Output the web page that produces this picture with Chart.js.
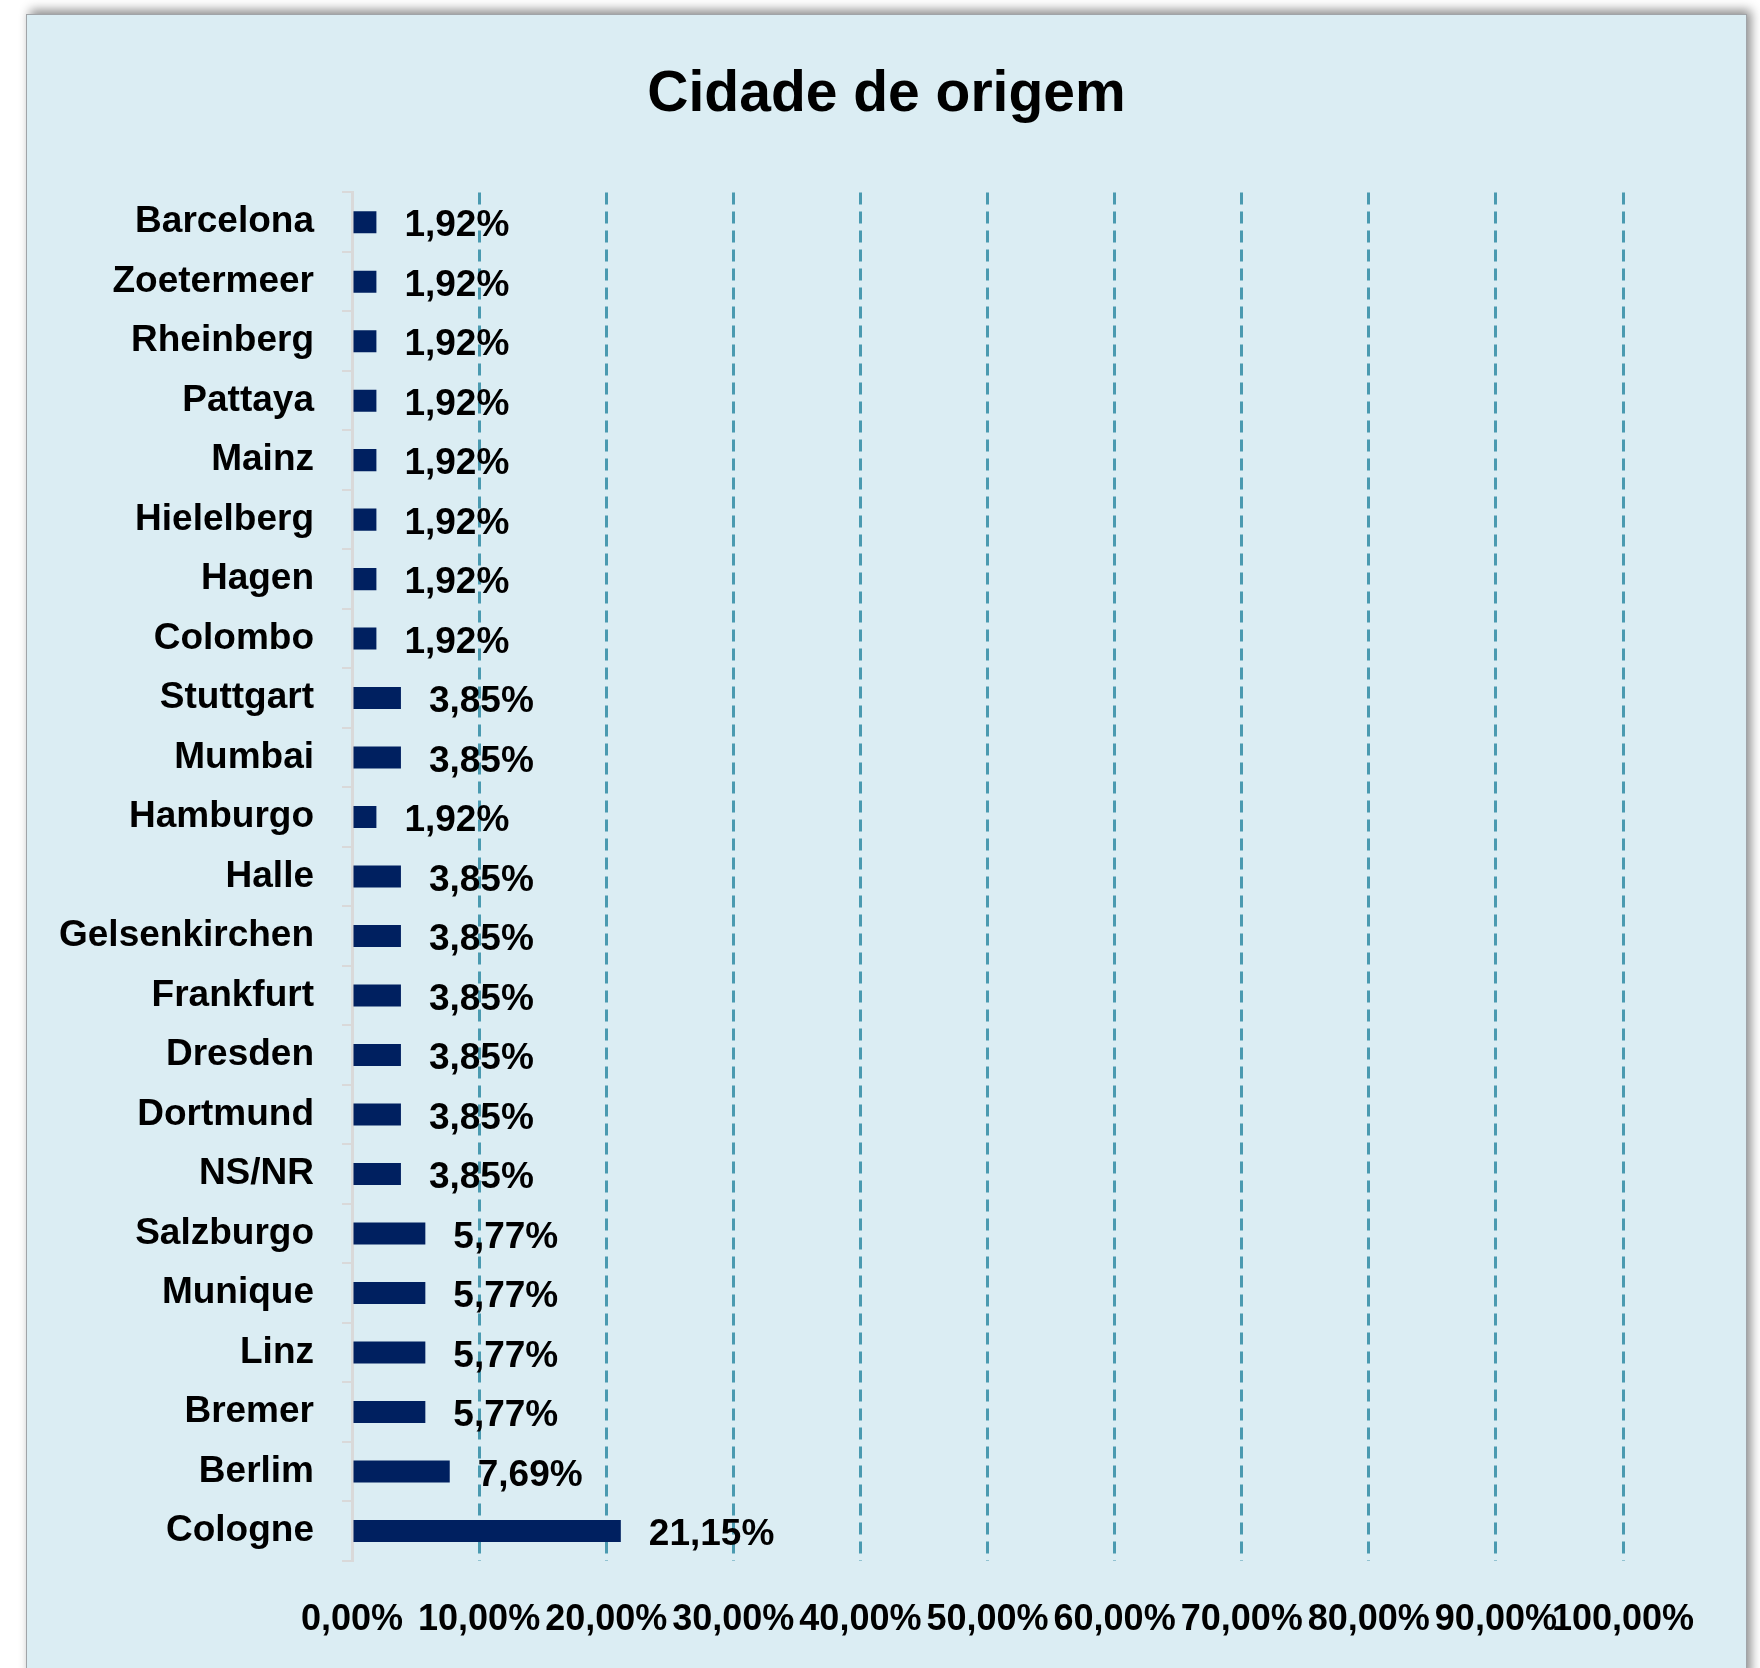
<!DOCTYPE html>
<html>
<head>
<meta charset="utf-8">
<title>Cidade de origem</title>
<script src="https://cdn.jsdelivr.net/npm/chart.js@4.4.1/dist/chart.umd.min.js"></script>
<style>
  html, body { margin: 0; padding: 0; background: #ffffff; overflow: hidden; }
  body { width: 1760px; height: 1668px; position: relative; }
  #card {
    position: absolute; left: 26px; top: 14px; width: 1721px; height: 1667px;
    background: #dbedf3; border: 1px solid #a0a4a8; box-sizing: border-box;
    box-shadow: 4px -4px 10px rgba(0,0,0,0.45);
  }
  #myChart { display: block; }
</style>
</head>
<body>
<div id="card"><canvas id="myChart" width="1719" height="1665"></canvas></div>
<script>
'use strict';

let cities = ['Barcelona', 'Zoetermeer', 'Rheinberg', 'Pattaya', 'Mainz', 'Hielelberg', 'Hagen', 'Colombo',
  'Stuttgart', 'Mumbai', 'Hamburgo', 'Halle', 'Gelsenkirchen', 'Frankfurt', 'Dresden', 'Dortmund', 'NS/NR',
  'Salzburgo', 'Munique', 'Linz', 'Bremer', 'Berlim', 'Cologne'];

let percents = [1.92, 1.92, 1.92, 1.92, 1.92, 1.92, 1.92, 1.92,
  3.85, 3.85, 1.92, 3.85, 3.85, 3.85, 3.85, 3.85, 3.85,
  5.77, 5.77, 5.77, 5.77, 7.69, 21.15];

let xTicks = ['0,00%', '10,00%', '20,00%', '30,00%', '40,00%', '50,00%', '60,00%', '70,00%', '80,00%', '90,00%', '100,00%'];

let fontName = "'Liberation Sans', Arial, sans-serif";

// write the value next to every bar
let valueLabels = {
  id: 'valueLabels',
  afterDatasetsDraw(chart) {
    let ctx = chart.ctx;
    let meta = chart.getDatasetMeta(0);
    ctx.save();
    ctx.fillStyle = '#000000';
    ctx.font = 'bold 37px ' + fontName;
    ctx.textBaseline = 'middle';
    ctx.textAlign = 'left';
    for (let i = 0; i < meta.data.length; i++) {
      let bar = meta.data[i];
      let txt = percents[i].toFixed(2).replace('.', ',') + '%';
      ctx.fillText(txt, bar.x + 28, bar.y + 4);
    }
    ctx.restore();
  }
};

let ctx = document.getElementById('myChart').getContext('2d');
let chart = new Chart(ctx, {
  type: 'bar',
  data: {
    labels: cities,
    datasets: [{
      data: percents,
      backgroundColor: '#002060',
      borderWidth: 0,
      barPercentage: 0.37,
      categoryPercentage: 1
    }]
  },
  plugins: [valueLabels],
  options: {
    indexAxis: 'y',
    responsive: false,
    animation: false,
    layout: { padding: 0 },
    plugins: {
      legend: { display: false },
      tooltip: { enabled: false },
      title: {
        display: true,
        text: 'Cidade de origem',
        color: '#000000',
        font: { family: fontName, size: 57, weight: 'bold' },
        padding: { top: 46, bottom: 63 }
      }
    },
    scales: {
      x: {
        min: 0,
        max: 100,
        // leave the empty strip on the right without moving the title
        afterFit: (scale) => { scale.paddingRight = 123; },
        grid: {
          color: (c) => c.tick && c.tick.value === 0 ? 'rgba(0,0,0,0)' : '#4a9ab0',
          lineWidth: 3,
          drawTicks: false
        },
        border: { display: false, dash: [12, 7] },
        ticks: {
          stepSize: 10,
          autoSkip: false,
          maxRotation: 0,
          padding: 38,
          color: '#000000',
          font: { family: fontName, size: 36, weight: 'bold' },
          callback: (v, i) => xTicks[i]
        }
      },
      y: {
        afterFit: (scale) => { scale.width = 325; },
        border: { display: true, color: '#d9d9d9', width: 3 },
        grid: {
          drawOnChartArea: false,
          color: '#d9d9d9',
          lineWidth: 2,
          tickLength: 10
        },
        ticks: {
          padding: 28,
          autoSkip: false,
          color: '#000000',
          font: { family: fontName, size: 37, weight: 'bold' }
        }
      }
    }
  }
});
</script>
</body>
</html>
